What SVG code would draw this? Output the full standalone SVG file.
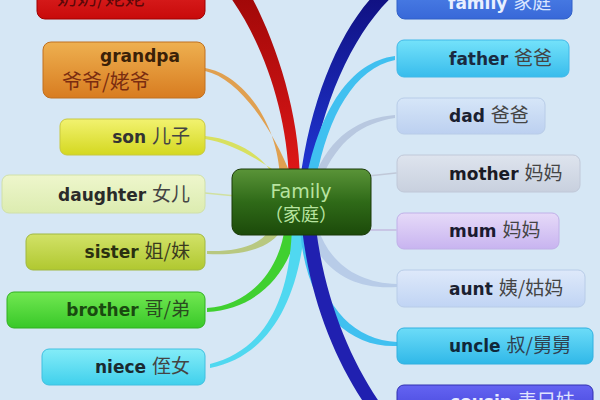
<svg xmlns="http://www.w3.org/2000/svg" width="600" height="400" viewBox="0 0 600 400">
<style>
.en{font-family:"DejaVu Sans","Liberation Sans",sans-serif;font-weight:bold;font-size:17px;fill:#222}
.zh{font-family:"Noto Sans CJK SC",sans-serif;font-weight:normal;font-size:19px;fill:#444}
.box{stroke-width:1}
.thin{fill:none;stroke-width:1.6;stroke-linecap:round}
</style>
<defs>
<linearGradient id="gRed" x1="0" y1="0" x2="0" y2="1"><stop offset="0" stop-color="#e83030"/><stop offset="1" stop-color="#c80a0a"/></linearGradient>
<linearGradient id="gOra" x1="0" y1="0" x2="0" y2="1"><stop offset="0" stop-color="#eeb050"/><stop offset="1" stop-color="#d87c20"/></linearGradient>
<linearGradient id="gSon" x1="0" y1="0" x2="0" y2="1"><stop offset="0" stop-color="#f2f270"/><stop offset="1" stop-color="#d4d820"/></linearGradient>
<linearGradient id="gDau" x1="0" y1="0" x2="0" y2="1"><stop offset="0" stop-color="#eef6cc"/><stop offset="1" stop-color="#dcecb0"/></linearGradient>
<linearGradient id="gSis" x1="0" y1="0" x2="0" y2="1"><stop offset="0" stop-color="#d2e268"/><stop offset="1" stop-color="#b0c830"/></linearGradient>
<linearGradient id="gBro" x1="0" y1="0" x2="0" y2="1"><stop offset="0" stop-color="#72e852"/><stop offset="1" stop-color="#38c828"/></linearGradient>
<linearGradient id="gNie" x1="0" y1="0" x2="0" y2="1"><stop offset="0" stop-color="#84ecf8"/><stop offset="1" stop-color="#40d0ec"/></linearGradient>
<linearGradient id="gFam" x1="0" y1="0" x2="0" y2="1"><stop offset="0" stop-color="#5a90f0"/><stop offset="1" stop-color="#3868d8"/></linearGradient>
<linearGradient id="gFat" x1="0" y1="0" x2="0" y2="1"><stop offset="0" stop-color="#74e2fa"/><stop offset="1" stop-color="#38bcec"/></linearGradient>
<linearGradient id="gDad" x1="0" y1="0" x2="0" y2="1"><stop offset="0" stop-color="#d6e6f8"/><stop offset="1" stop-color="#bcd0f0"/></linearGradient>
<linearGradient id="gMot" x1="0" y1="0" x2="0" y2="1"><stop offset="0" stop-color="#dee4ee"/><stop offset="1" stop-color="#c8d0de"/></linearGradient>
<linearGradient id="gMum" x1="0" y1="0" x2="0" y2="1"><stop offset="0" stop-color="#e6daf8"/><stop offset="1" stop-color="#c8b4f0"/></linearGradient>
<linearGradient id="gAun" x1="0" y1="0" x2="0" y2="1"><stop offset="0" stop-color="#dee9fa"/><stop offset="1" stop-color="#c0d4f4"/></linearGradient>
<linearGradient id="gUnc" x1="0" y1="0" x2="0" y2="1"><stop offset="0" stop-color="#6cdcf8"/><stop offset="1" stop-color="#30b8e8"/></linearGradient>
<linearGradient id="gCou" x1="0" y1="0" x2="0" y2="1"><stop offset="0" stop-color="#6464f2"/><stop offset="1" stop-color="#3838d0"/></linearGradient>
<linearGradient id="gCen" x1="0" y1="0" x2="0" y2="1"><stop offset="0" stop-color="#5a9438"/><stop offset="0.5" stop-color="#2f6a18"/><stop offset="1" stop-color="#1c4a0a"/></linearGradient>
<linearGradient id="gBlueBr" x1="0" y1="0" x2="0" y2="1"><stop offset="0" stop-color="#101080"/><stop offset="1" stop-color="#2038d8"/></linearGradient>
<linearGradient id="gRedBr" x1="0" y1="0" x2="0" y2="1"><stop offset="0" stop-color="#a00808"/><stop offset="1" stop-color="#e01818"/></linearGradient>
</defs>
<rect x="0" y="0" width="600" height="400" fill="#d6e7f5"/>

<g id="connectors">
<path d="M289,180 C287,110 262,40 228,-6 L250,-6 C275,40 299,110 300,180 Z" fill="url(#gRedBr)"/>
<path d="M280,178 C278,122 242,74 205,68 L205,71 C238,78 272,126 292,178 Z" fill="#e0a050"/>
<path d="M276,180 C265,156 236,139 205,136 L205,139 C232,143 262,161 287,180 Z" fill="#d8e060"/>
<path d="M205,193 L236,196" class="thin" stroke="#d0e0a0"/>
<path d="M272,226 C262,246 236,252 207,251 L207,254 C240,256 270,250 283,228 Z" fill="#b8c880"/>
<path d="M285,226 C280,270 250,305 207,308 L207,312 C255,310 290,275 298,226 Z" fill="#40d030"/>
<path d="M292,226 C290,300 265,350 210,364 L210,368 C270,356 298,300 305,226 Z" fill="#50d8f0"/>
<path d="M300,182 C310,100 340,30 375,-6 L395,-6 C355,30 322,100 310,182 Z" fill="url(#gBlueBr)"/>
<path d="M306,180 C320,110 350,62 395,56 L395,60 C355,68 328,115 316,180 Z" fill="#40c0f0"/>
<path d="M313,180 C330,135 360,118 395,115 L395,118 C362,123 338,140 321,180 Z" fill="#b8c8e0"/>
<path d="M368,176 L396,173" class="thin" stroke="#c0c8d8"/>
<path d="M368,230 L396,230" class="thin" stroke="#c4bce0"/>
<path d="M318,228 C330,265 360,283 397,284 L397,287 C355,290 320,272 308,228 Z" fill="#b8cce8"/>
<path d="M310,228 C315,300 350,340 397,342 L397,346 C345,348 305,305 300,228 Z" fill="#40c0f0"/>
<path d="M302,228 C310,300 335,360 366,406 L382,406 C350,360 325,300 316,228 Z" fill="#2020b0"/>
</g>

<g id="node-grandma">
<rect class="box" x="37" y="-30" width="168" height="49" rx="8" fill="url(#gRed)" stroke="#a00000"/>
<text class="zh" x="57" y="5" style="fill:#5a0808;font-size:20px">奶奶/姥姥</text>
</g>
<g id="node-grandpa">
<rect class="box" x="43" y="42" width="162" height="56" rx="8" fill="url(#gOra)" stroke="#c07020"/>
<text class="en" x="140" y="62" text-anchor="middle" style="fill:#3a2008">grandpa</text>
<text class="zh" x="62" y="89" style="fill:#7a2c10;font-size:20px">爷爷/姥爷</text>
</g>
<g id="node-son">
<rect class="box" x="60" y="119" width="145" height="36" rx="7" fill="url(#gSon)" stroke="#c8c840"/>
<text x="190" y="143" text-anchor="end"><tspan class="en" style="fill:#333">son </tspan><tspan class="zh">儿子</tspan></text>
</g>
<g id="node-daughter">
<rect class="box" x="2" y="175" width="203" height="38" rx="7" fill="url(#gDau)" stroke="#d0e0a8"/>
<text x="190" y="201" text-anchor="end"><tspan class="en" style="fill:#2a2a2a">daughter </tspan><tspan class="zh">女儿</tspan></text>
</g>
<g id="node-sister">
<rect class="box" x="26" y="234" width="179" height="36" rx="7" fill="url(#gSis)" stroke="#a0b840"/>
<text x="190" y="258" text-anchor="end"><tspan class="en" style="fill:#2a3010">sister </tspan><tspan class="zh" style="fill:#3a3a20">姐/妹</tspan></text>
</g>
<g id="node-brother">
<rect class="box" x="7" y="292" width="198" height="36" rx="7" fill="url(#gBro)" stroke="#30b020"/>
<text x="190" y="316" text-anchor="end"><tspan class="en" style="fill:#1a4a10">brother </tspan><tspan class="zh" style="fill:#2a4a20">哥/弟</tspan></text>
</g>
<g id="node-niece">
<rect class="box" x="42" y="349" width="163" height="36" rx="7" fill="url(#gNie)" stroke="#40c0e0"/>
<text x="190" y="373" text-anchor="end"><tspan class="en" style="fill:#1a2a30">niece </tspan><tspan class="zh">侄女</tspan></text>
</g>

<g id="node-family-word">
<rect class="box" x="397" y="-30" width="175" height="49" rx="8" fill="url(#gFam)" stroke="#3060c8"/>
<text x="448" y="9"><tspan class="en" style="fill:#e8f0ff">family </tspan><tspan class="zh" style="fill:#d8e4ff">家庭</tspan></text>
</g>
<g id="node-father">
<rect class="box" x="397" y="40" width="172" height="37" rx="7" fill="url(#gFat)" stroke="#40b8e8"/>
<text x="449" y="65"><tspan class="en" style="fill:#1a2a40">father </tspan><tspan class="zh">爸爸</tspan></text>
</g>
<g id="node-dad">
<rect class="box" x="397" y="98" width="148" height="36" rx="7" fill="url(#gDad)" stroke="#b8cce8"/>
<text x="449" y="122"><tspan class="en" style="fill:#1a2030">dad </tspan><tspan class="zh">爸爸</tspan></text>
</g>
<g id="node-mother">
<rect class="box" x="397" y="155" width="183" height="37" rx="7" fill="url(#gMot)" stroke="#c0c8d8"/>
<text x="449" y="180"><tspan class="en" style="fill:#1a1a24">mother </tspan><tspan class="zh">妈妈</tspan></text>
</g>
<g id="node-mum">
<rect class="box" x="397" y="213" width="162" height="36" rx="7" fill="url(#gMum)" stroke="#c0b0e8"/>
<text x="449" y="237"><tspan class="en" style="fill:#1a1a30">mum </tspan><tspan class="zh">妈妈</tspan></text>
</g>
<g id="node-aunt">
<rect class="box" x="397" y="270" width="188" height="37" rx="7" fill="url(#gAun)" stroke="#b8cce8"/>
<text x="449" y="295"><tspan class="en" style="fill:#1a2030">aunt </tspan><tspan class="zh">姨/姑妈</tspan></text>
</g>
<g id="node-uncle">
<rect class="box" x="397" y="328" width="196" height="36" rx="7" fill="url(#gUnc)" stroke="#30b0e0"/>
<text x="449" y="352"><tspan class="en" style="fill:#10283a">uncle </tspan><tspan class="zh" style="fill:#304050">叔/舅舅</tspan></text>
</g>
<g id="node-cousin">
<rect class="box" x="397" y="385" width="196" height="45" rx="7" fill="url(#gCou)" stroke="#3030b0"/>
<text x="450" y="408"><tspan class="en" style="fill:#e8ecff">cousin </tspan><tspan class="zh" style="fill:#e0e4ff">表兄妹</tspan></text>
</g>

<g id="node-center">
<rect x="232" y="169" width="139" height="66" rx="9" fill="url(#gCen)" stroke="#1a3a08" stroke-width="1"/>
<text x="301" y="198" text-anchor="middle" style="font-family:'DejaVu Sans','Liberation Sans',sans-serif;font-size:19px;fill:#b8e4a0">Family</text>
<text x="301" y="221" text-anchor="middle" style="font-family:'Noto Sans CJK SC',sans-serif;font-size:18px;fill:#b8e4a0">（家庭）</text>
</g>
</svg>
